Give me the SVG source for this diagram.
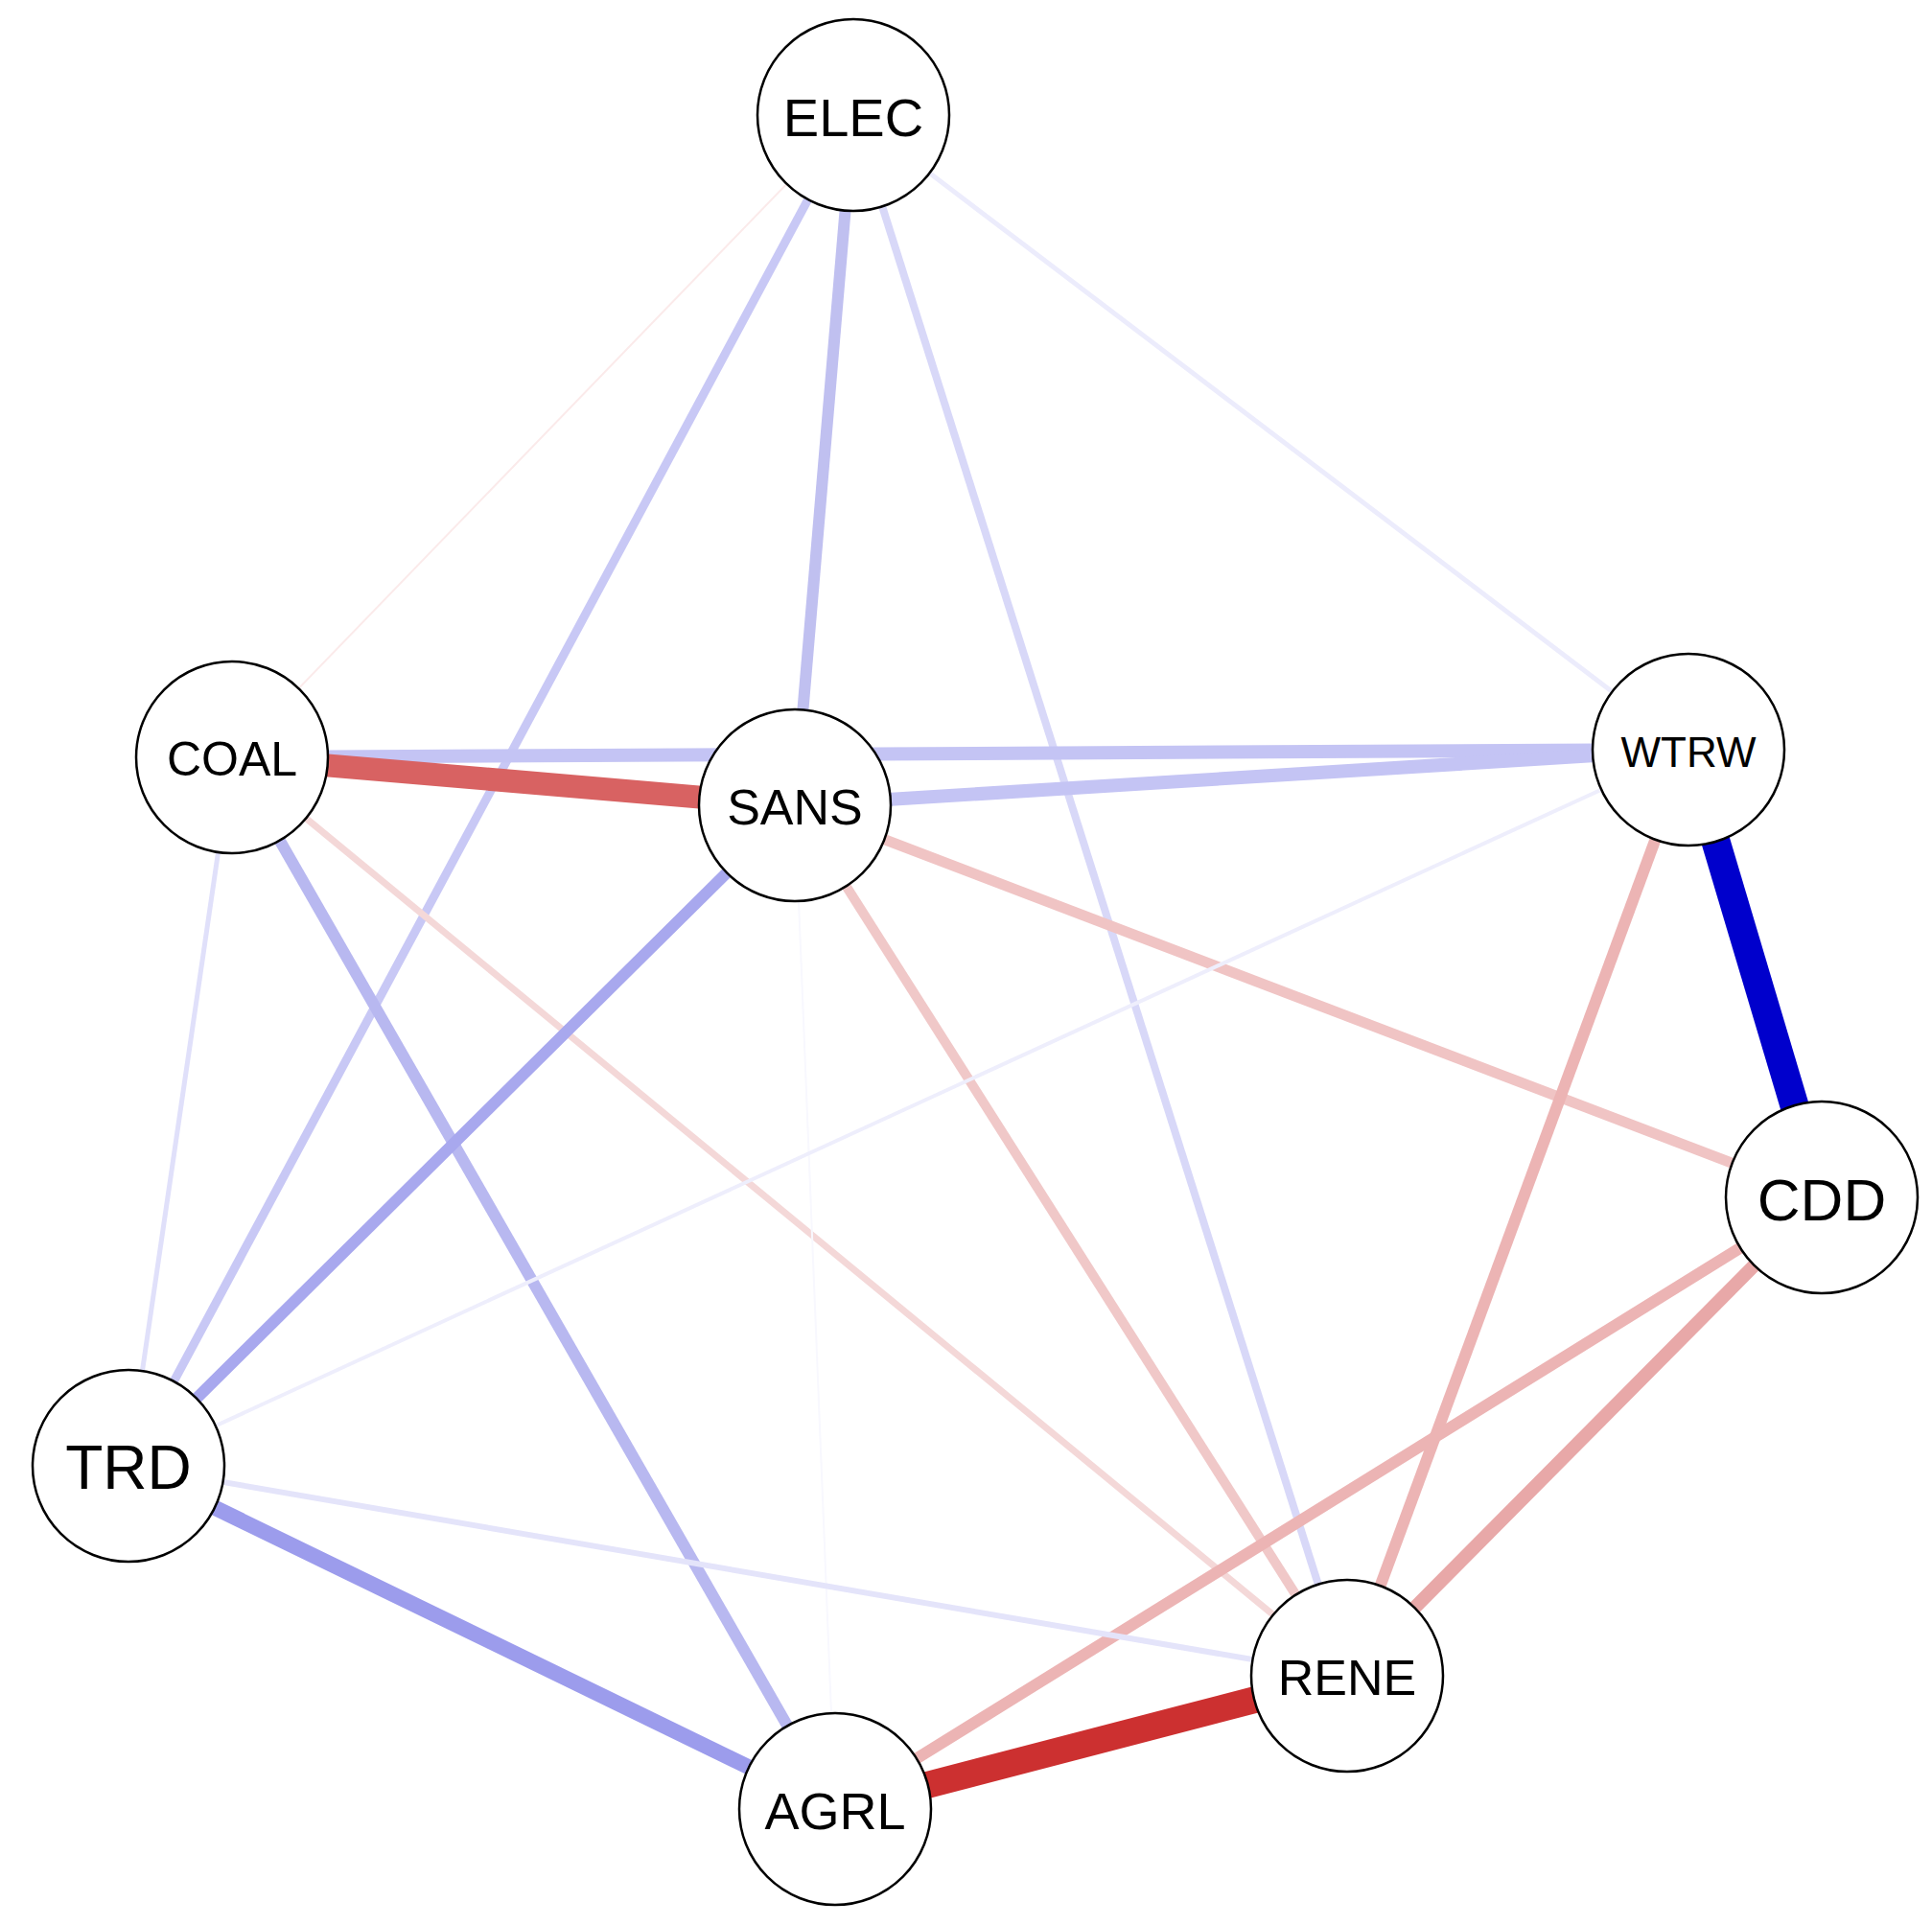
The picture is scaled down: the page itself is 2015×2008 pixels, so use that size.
<svg xmlns="http://www.w3.org/2000/svg" width="2015" height="2008" viewBox="0 0 2015 2008">
<style>
.n circle{fill:#fff;stroke:#000;stroke-width:2.5}
.n text{font-family:"Liberation Sans",Arial,sans-serif;text-anchor:middle;dominant-baseline:central;fill:#000}
line{stroke-linecap:butt}
</style>
<rect width="2015" height="2008" fill="#fff"/>
<g id="edges">
<line x1="890" y1="120" x2="242" y2="790" stroke="#fbeaea" stroke-width="2"/>
<line x1="890" y1="120" x2="134" y2="1529" stroke="#c8c8f5" stroke-width="9"/>
<line x1="890" y1="120" x2="829" y2="840" stroke="#c0c0f0" stroke-width="12"/>
<line x1="890" y1="120" x2="1405" y2="1748" stroke="#d8d8f8" stroke-width="8"/>
<line x1="890" y1="120" x2="1761" y2="782" stroke="#ececfc" stroke-width="5"/>
<line x1="242" y1="790" x2="1761" y2="782" stroke="#c4c4f4" stroke-width="14"/>
<line x1="829" y1="840" x2="1761" y2="782" stroke="#c4c4f4" stroke-width="14"/>
<line x1="242" y1="790" x2="134" y2="1529" stroke="#e0e0fa" stroke-width="5"/>
<line x1="242" y1="790" x2="871" y2="1887" stroke="#b8b8f0" stroke-width="12"/>
<line x1="242" y1="790" x2="1405" y2="1748" stroke="#f4d8d8" stroke-width="7"/>
<line x1="829" y1="840" x2="134" y2="1529" stroke="#a8a8ee" stroke-width="12"/>
<line x1="829" y1="840" x2="1900" y2="1249" stroke="#f0c4c4" stroke-width="11"/>
<line x1="829" y1="840" x2="1405" y2="1748" stroke="#f0c8c8" stroke-width="10"/>
<line x1="829" y1="840" x2="871" y2="1887" stroke="#f8f8fe" stroke-width="2"/>
<line x1="1761" y1="782" x2="134" y2="1529" stroke="#eeeefc" stroke-width="4"/>
<line x1="1761" y1="782" x2="1405" y2="1748" stroke="#ecb4b4" stroke-width="12"/>
<line x1="1900" y1="1249" x2="871" y2="1887" stroke="#ecb4b4" stroke-width="12"/>
<line x1="1900" y1="1249" x2="1405" y2="1748" stroke="#e8a8a8" stroke-width="14"/>
<line x1="134" y1="1529" x2="871" y2="1887" stroke="#9c9cec" stroke-width="16"/>
<line x1="134" y1="1529" x2="1405" y2="1748" stroke="#e4e4fa" stroke-width="6"/>
<line x1="242" y1="790" x2="829" y2="840" stroke="#d86262" stroke-width="24"/>
<line x1="1761" y1="782" x2="1900" y2="1249" stroke="#0000cc" stroke-width="30"/>
<line x1="871" y1="1887" x2="1405" y2="1748" stroke="#cc3030" stroke-width="28"/>
</g>
<g id="ELEC" class="n"><circle cx="890" cy="120" r="100"/><text x="890" y="122" font-size="56">ELEC</text></g>
<g id="COAL" class="n"><circle cx="242" cy="790" r="100"/><text x="242" y="792" font-size="50">COAL</text></g>
<g id="SANS" class="n"><circle cx="829" cy="840" r="100"/><text x="829" y="842" font-size="52">SANS</text></g>
<g id="WTRW" class="n"><circle cx="1761" cy="782" r="100"/><text x="1761" y="784" font-size="44">WTRW</text></g>
<g id="CDD" class="n"><circle cx="1900" cy="1249" r="100"/><text x="1900" y="1251" font-size="62">CDD</text></g>
<g id="TRD" class="n"><circle cx="134" cy="1529" r="100"/><text x="134" y="1531" font-size="64">TRD</text></g>
<g id="RENE" class="n"><circle cx="1405" cy="1748" r="100"/><text x="1405" y="1750" font-size="52">RENE</text></g>
<g id="AGRL" class="n"><circle cx="871" cy="1887" r="100"/><text x="871" y="1889" font-size="54">AGRL</text></g>
</svg>
